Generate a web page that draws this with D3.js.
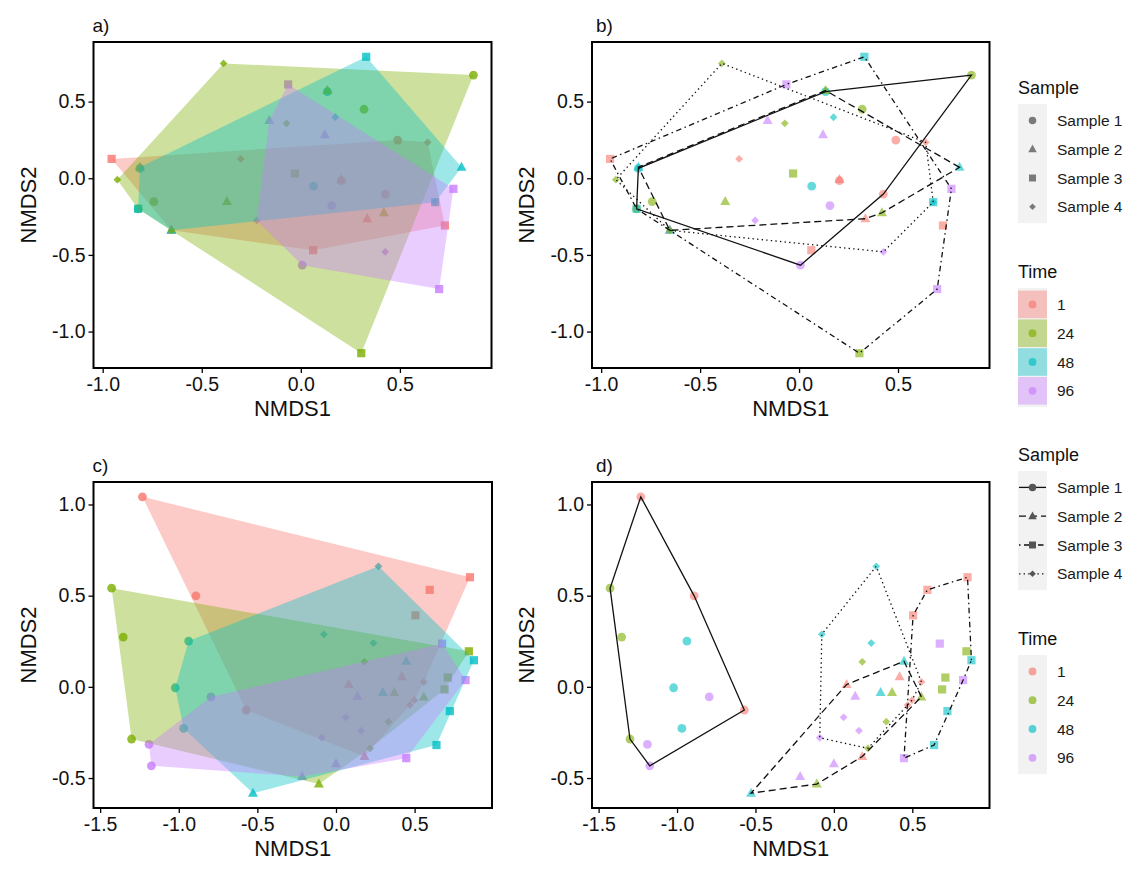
<!DOCTYPE html>
<html>
<head>
<meta charset="utf-8">
<script src="https://cdn.jsdelivr.net/npm/d3@7"></script>
<style>
body{margin:0;background:#fff;}
</style>
</head>
<body>
<svg id="chart" width="1127" height="870"></svg>
<script>
// values
var times = ["1", "24", "48", "96"];
var samples = ["Sample 1", "Sample 2", "Sample 3", "Sample 4"];
var timeColors = ["#F8766D", "#7CAE00", "#00BFC4", "#C77CFF"];

// panels a) and b): [NMDS1, NMDS2, time, sample index]
var topPoints = [
  [0.489, 0.249, "1", 0], [0.204, -0.015, "1", 0], [0.426, -0.103, "1", 0],
  [-0.742, -0.152, "24", 0], [0.319, 0.45, "24", 0], [0.871, 0.673, "24", 0], [-0.821, -0.2, "24", 0],
  [-0.812, 0.065, "48", 0], [0.064, -0.052, "48", 0], [0.134, 0.565, "48", 0],
  [0.156, -0.178, "96", 0], [0.007, -0.567, "96", 0],

  [0.335, -0.264, "1", 1], [0.204, -0.008, "1", 1], [-0.653, -0.34, "1", 1],
  [-0.373, -0.152, "24", 1], [0.419, -0.225, "24", 1], [0.134, 0.572, "24", 1],
  [-0.812, 0.072, "48", 1], [0.811, 0.071, "48", 1], [-0.653, -0.34, "48", 1],
  [-0.159, 0.376, "96", 1], [0.121, 0.284, "96", 1],

  [-0.955, 0.126, "1", 2], [0.727, -0.308, "1", 2], [0.062, -0.469, "1", 2],
  [-0.03, 0.031, "24", 2], [0.305, -1.141, "24", 2],
  [-0.821, -0.199, "48", 2], [0.33, 0.792, "48", 2], [0.678, -0.156, "48", 2],
  [-0.064, 0.612, "96", 2], [0.77, -0.069, "96", 2], [0.698, -0.723, "96", 2],

  [0.64, 0.234, "1", 3], [-0.303, 0.126, "1", 3],
  [-0.926, -0.009, "24", 3], [-0.39, 0.749, "24", 3], [-0.072, 0.358, "24", 3], [-0.653, -0.34, "24", 3],
  [0.174, 0.398, "48", 3], [0.678, -0.156, "48", 3],
  [-0.222, -0.275, "96", 3], [0.426, -0.48, "96", 3]
];

// panels c) and d)
var bottomPoints = [
  [-1.231, 1.042, "1", 0], [-0.891, 0.499, "1", 0], [-0.571, -0.127, "1", 0],
  [-1.427, 0.541, "24", 0], [-1.353, 0.273, "24", 0], [-1.3, -0.286, "24", 0],
  [-0.937, 0.251, "48", 0], [-1.022, -0.005, "48", 0], [-0.969, -0.228, "48", 0],
  [-0.795, -0.055, "96", 0], [-1.189, -0.315, "96", 0], [-1.174, -0.433, "96", 0],

  [0.081, 0.013, "1", 1], [0.419, 0.055, "1", 1], [0.181, -0.382, "1", 1],
  [-0.109, -0.533, "24", 1], [0.371, -0.031, "24", 1], [0.558, -0.055, "24", 1],
  [-0.528, -0.583, "48", 1], [0.298, -0.031, "48", 1], [0.447, 0.14, "48", 1],
  [-0.215, -0.492, "96", 1], [0.0, -0.422, "96", 1], [0.136, -0.051, "96", 1],

  [0.852, 0.601, "1", 2], [0.596, 0.532, "1", 2], [0.505, 0.392, "1", 2],
  [0.845, 0.195, "24", 2], [0.711, 0.051, "24", 2], [0.69, -0.014, "24", 2],
  [0.877, 0.146, "48", 2], [0.724, -0.133, "48", 2], [0.639, -0.319, "48", 2],
  [0.675, 0.237, "96", 2], [0.824, 0.037, "96", 2], [0.447, -0.391, "96", 2],

  [0.498, -0.073, "1", 3], [0.558, 0.027, "1", 3], [0.47, -0.1, "1", 3],
  [0.181, 0.137, "24", 3], [0.334, -0.191, "24", 3], [0.217, -0.337, "24", 3],
  [0.27, 0.661, "48", 3], [-0.077, 0.288, "48", 3], [0.238, 0.24, "48", 3],
  [0.062, -0.167, "96", 3], [0.16, -0.24, "96", 3], [-0.09, -0.279, "96", 3]
];

var topXTicks = [-1.0, -0.5, 0.0, 0.5];
var topYTicks = [0.5, 0.0, -0.5, -1.0];
var bottomXTicks = [-1.5, -1.0, -0.5, 0.0, 0.5];
var bottomYTicks = [1.0, 0.5, 0.0, -0.5];

var FONT = "'Liberation Sans', Arial, sans-serif";
var sampleDash = [null, "7,4", "1.5,3.5,5.5,3.5", "1.4,3.2"];
var color = d3.scaleOrdinal().domain(times).range(timeColors);

// point glyphs like ggplot shapes 16, 17, 15, 18
function shapePath(s, k) {
  k = k || 1;
  if (s === 0) {
    var r = 4.4 * k;
    return "M" + (-r) + ",0A" + r + "," + r + " 0 1,0 " + r + ",0A" + r + "," + r + " 0 1,0 " + (-r) + ",0Z";
  }
  if (s === 1) {
    var a = 5 * k;
    return "M0," + (-a * 1.1) + "L" + a + "," + (a * 0.7) + "L" + (-a) + "," + (a * 0.7) + "Z";
  }
  if (s === 2) {
    var h = 4.1 * k;
    return "M" + (-h) + "," + (-h) + "H" + h + "V" + h + "H" + (-h) + "Z";
  }
  var d = 3.9 * k;
  return "M0," + (-d) + "L" + d + ",0L0," + d + "L" + (-d) + ",0Z";
}

// ggplot style 5% expansion of the data range
function expand(ext) {
  var pad = (ext[1] - ext[0]) * 0.05;
  return [ext[0] - pad, ext[1] + pad];
}

var svg = d3.select("#chart");

var panels = [
  {tag: "a)", data: topPoints, box: [93.5, 42, 491.5, 368], fill: true, xt: topXTicks, yt: topYTicks},
  {tag: "b)", data: topPoints, box: [592, 42, 989.5, 368], fill: false, xt: topXTicks, yt: topYTicks},
  {tag: "c)", data: bottomPoints, box: [93.5, 482, 492, 808], fill: true, xt: bottomXTicks, yt: bottomYTicks},
  {tag: "d)", data: bottomPoints, box: [592, 482, 989.5, 808], fill: false, xt: bottomXTicks, yt: bottomYTicks}
];

panels.forEach(function(p) {
  var b = p.box;
  var x = d3.scaleLinear().domain(expand(d3.extent(p.data, function(d) { return d[0]; }))).range([b[0], b[2]]);
  var y = d3.scaleLinear().domain(expand(d3.extent(p.data, function(d) { return d[1]; }))).range([b[3], b[1]]);
  var g = svg.append("g");

  g.selectAll(".pt")
    .data(p.data)
    .enter()
    .append("path")
      .attr("class", "pt")
      .attr("transform", function(d) { return "translate(" + x(d[0]) + "," + y(d[1]) + ")"; })
      .attr("d", function(d) { return shapePath(d[3]); })
      .attr("fill", function(d) { return color(d[2]); })
      .attr("fill-opacity", p.fill ? 0.8 : 0.6);

  if (p.fill) {
    // hull per time point, filled, drawn over the points
    times.forEach(function(t) {
      var pts = p.data.filter(function(d) { return d[2] === t; }).map(function(d) { return [x(d[0]), y(d[1])]; });
      var hull = d3.polygonHull(pts);
      g.append("path")
        .attr("d", "M" + hull.join("L") + "Z")
        .attr("fill", color(t))
        .attr("fill-opacity", 0.38)
        .attr("stroke", "none");
    });
  } else {
    // hull per sample, outlined with linetype
    samples.forEach(function(s, i) {
      var pts = p.data.filter(function(d) { return d[3] === i; }).map(function(d) { return [x(d[0]), y(d[1])]; });
      var hull = d3.polygonHull(pts);
      g.append("path")
        .attr("d", "M" + hull.join("L") + "Z")
        .attr("fill", "none")
        .attr("stroke", "#111")
        .attr("stroke-width", 1.3)
        .attr("stroke-dasharray", sampleDash[i]);
    });
  }

  var fmt = function(v) { return v.toFixed(1); };
  var gx = g.append("g")
    .attr("transform", "translate(0," + b[3] + ")")
    .call(d3.axisBottom(x).tickValues(p.xt).tickSize(5).tickPadding(4).tickFormat(fmt));
  var gy = g.append("g")
    .attr("transform", "translate(" + b[0] + ",0)")
    .call(d3.axisLeft(y).tickValues(p.yt).tickSize(5).tickPadding(3).tickFormat(fmt));
  [gx, gy].forEach(function(ax) {
    ax.select(".domain").remove();
    ax.attr("font-family", FONT).attr("font-size", 19.5);
    ax.selectAll("line").attr("stroke", "#000").attr("stroke-width", 1.3);
    ax.selectAll("text").attr("fill", "#111");
  });

  g.append("rect")
    .attr("x", b[0]).attr("y", b[1])
    .attr("width", b[2] - b[0]).attr("height", b[3] - b[1])
    .attr("fill", "none").attr("stroke", "#000").attr("stroke-width", 2);

  g.append("text")
    .attr("x", (b[0] + b[2]) / 2).attr("y", b[3] + 48)
    .attr("text-anchor", "middle")
    .attr("font-family", FONT).attr("font-size", 22).attr("fill", "#111")
    .text("NMDS1");
  g.append("text")
    .attr("transform", "translate(" + (b[0] - 58) + "," + ((b[1] + b[3]) / 2) + ") rotate(-90)")
    .attr("text-anchor", "middle")
    .attr("font-family", FONT).attr("font-size", 22).attr("fill", "#111")
    .text("NMDS2");
  g.append("text")
    .attr("x", b[0] + (p.fill ? -1 : 4)).attr("y", b[1] - 10)
    .attr("font-family", FONT).attr("font-size", 19).attr("fill", "#111")
    .text(p.tag);
});

// legends
function legend(top, lines) {
  var lg = svg.append("g").attr("font-family", FONT);
  var kx = 1018, kw = 29, kh = 28.8;
  lg.append("text").attr("x", kx).attr("y", top).attr("font-size", 18).attr("fill", "#111").text("Sample");
  var sTop = top + 10;
  lg.append("rect").attr("x", kx).attr("y", sTop).attr("width", kw).attr("height", kh * 4 + 4).attr("fill", "#F2F2F2");
  samples.forEach(function(s, i) {
    var cy = sTop + 2 + kh * (i + 0.5);
    if (lines) {
      lg.append("line").attr("x1", kx + 1).attr("x2", kx + kw - 1).attr("y1", cy).attr("y2", cy)
        .attr("stroke", "#111").attr("stroke-width", 1.3).attr("stroke-dasharray", sampleDash[i]);
    }
    lg.append("path").attr("transform", "translate(" + (kx + kw / 2) + "," + cy + ")")
      .attr("d", shapePath(i, 0.85)).attr("fill", lines ? "#555" : "#7a7a7a");
    lg.append("text").attr("x", kx + 39).attr("y", cy + 5.5).attr("font-size", 15.5).attr("fill", "#1a1a1a").text(s);
  });
  var tTop = top + 184;
  lg.append("text").attr("x", kx).attr("y", tTop).attr("font-size", 18).attr("fill", "#111").text("Time");
  var kTop = tTop + 10;
  lg.append("rect").attr("x", kx).attr("y", kTop).attr("width", kw).attr("height", kh * 4 + 4).attr("fill", "#F2F2F2");
  times.forEach(function(t, i) {
    var cy = kTop + 2 + kh * (i + 0.5);
    if (!lines) {
      lg.append("rect").attr("x", kx).attr("y", cy - kh / 2 + 0.6).attr("width", kw).attr("height", kh - 1.2)
        .attr("fill", color(t)).attr("fill-opacity", 0.4);
    }
    lg.append("circle").attr("cx", kx + kw / 2).attr("cy", cy).attr("r", 3.9)
      .attr("fill", color(t)).attr("fill-opacity", 0.65);
    lg.append("text").attr("x", kx + 39).attr("y", cy + 5.5).attr("font-size", 15.5).attr("fill", "#1a1a1a").text(t);
  });
}
legend(94, false);
legend(461, true);
</script>
</body>
</html>
